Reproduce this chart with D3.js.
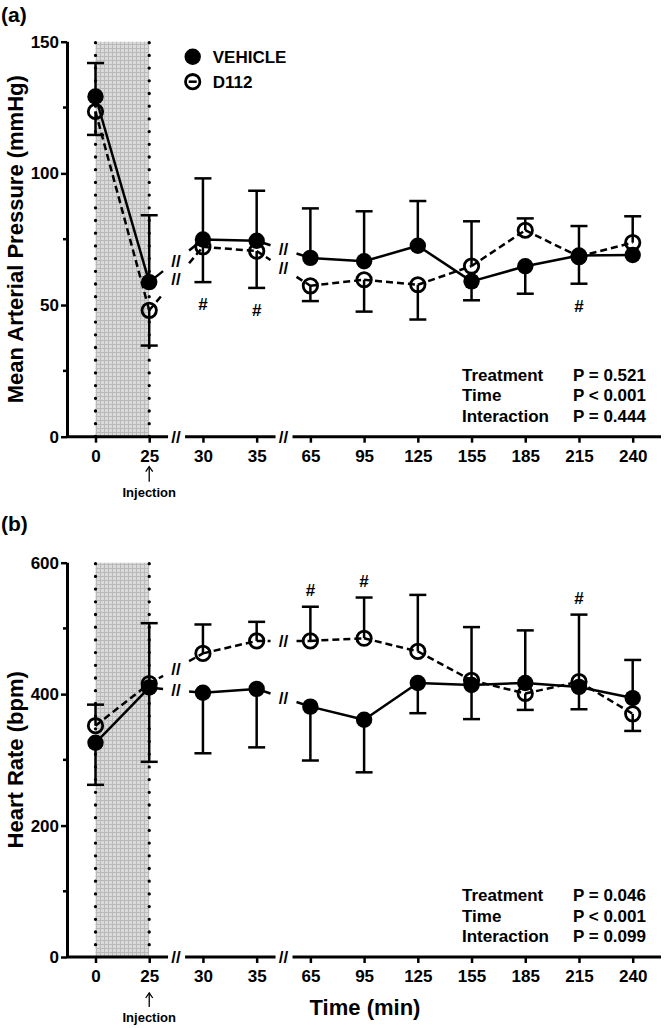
<!DOCTYPE html>
<html>
<head>
<meta charset="utf-8">
<script src="https://cdn.jsdelivr.net/npm/d3@7"></script>
<style>
  body { margin: 0; background: #fff; }
  svg { display: block; font-family: "Liberation Sans", Arial, sans-serif; }
</style>
</head>
<body>
<div id="chart"></div>
<script>
// time points (categorical, with axis breaks after 25 and 35)
const timeLabels = ["0", "25", "30", "35", "65", "95", "125", "155", "185", "215", "240"];
const axisBreaks = [["25", "30"], ["35", "65"]];

// (a) mean arterial pressure, mmHg; *Err = end of the one-sided error bar
const mapVehicle    = [129.2, 58.7, 74.9, 74.4, 67.9, 66.6, 72.5, 59.0, 64.7, 68.8, 69.0];
const mapVehicleErr = [141.9, 84.1, 98.1, 93.4, 86.7, 85.6, 89.5, 51.8, 54.3, 80.0, 69.0];
const mapD112       = [123.5, 48.0, 72.1, 70.5, 57.3, 59.6, 57.7, 64.8, 78.4, 68.4, 73.7];
const mapD112Err    = [114.6, 34.6, 58.7, 56.5, 51.5, 47.5, 44.5, 81.8, 82.9, 58.1, 83.7];
const mapTicks = [0, 50, 100, 150];
const mapMinor = [25, 75, 125];
const mapSig = ["30", "35", "215"];
const mapStats = [["Treatment", "P = 0.521"], ["Time", "P < 0.001"], ["Interaction", "P = 0.444"]];

// (b) heart rate, bpm
const hrVehicle    = [326, 410, 402, 408, 381, 361, 417, 414, 417, 411, 394];
const hrVehicleErr = [262, 297, 310, 319, 299, 281, 371, 362, 497, 377, 452];
const hrD112       = [352, 416, 462, 481, 481, 485, 465, 421, 401, 419, 370];
const hrD112Err    = [384, 508, 506, 510, 533, 547, 551, 502, 376, 521, 344];
const hrTicks = [0, 200, 400, 600];
const hrMinor = [100, 300, 500];
const hrSig = ["65", "95", "215"];
const hrStats = [["Treatment", "P = 0.046"], ["Time", "P < 0.001"], ["Interaction", "P = 0.099"]];

const width = 664, height = 1028;
const svg = d3.select("#chart").append("svg")
    .attr("width", width)
    .attr("height", height);

// grey mesh used for the injection window
const pat = svg.append("defs").append("pattern")
    .attr("id", "mesh")
    .attr("patternUnits", "userSpaceOnUse")
    .attr("width", 4).attr("height", 4);
pat.append("rect").attr("width", 4).attr("height", 4).attr("fill", "#b9b9b9");
pat.append("rect").attr("x", 1).attr("y", 1).attr("width", 3).attr("height", 3).attr("fill", "#dadada");

const x = d3.scalePoint().domain(timeLabels).range([95.5, 632.7]);
const axisX0 = 67, axisX1 = 661;
const breakXs = axisBreaks.map(([a, b]) => (x(a) + x(b)) / 2);

function drawPanel(cfg) {
    const y = d3.scaleLinear().domain([0, cfg.max]).range([cfg.bottom, cfg.top]);
    const g = svg.append("g");

    // injection window
    g.append("rect")
        .attr("x", x("0")).attr("width", x("25") - x("0"))
        .attr("y", y(cfg.max)).attr("height", y(0) - y(cfg.max))
        .attr("fill", "url(#mesh)");
    ["0", "25"].forEach(t => {
        g.append("line")
            .attr("x1", x(t)).attr("x2", x(t))
            .attr("y1", y(cfg.max) + 1).attr("y2", y(0))
            .attr("stroke", "#000").attr("stroke-width", 3.3)
            .attr("stroke-linecap", "round")
            .attr("stroke-dasharray", "0,12.7");
    });

    // y axis
    const yAxis = g.append("g")
        .attr("transform", `translate(${axisX0},0)`)
        .call(d3.axisLeft(y).tickValues(cfg.ticks).tickSize(6).tickPadding(2).tickSizeOuter(0));
    yAxis.select(".domain").attr("stroke-width", 3).attr("d", `M0.5,${y(cfg.max)}V${y(0)}`);
    yAxis.selectAll(".tick line").attr("stroke-width", 2.5);
    yAxis.selectAll(".minor").data(cfg.minor).join("line")
        .attr("x1", 0).attr("x2", -4)
        .attr("y1", d => y(d)).attr("y2", d => y(d))
        .attr("stroke", "#000").attr("stroke-width", 2.5);
    yAxis.selectAll("text")
        .attr("font-size", 17).attr("font-weight", "bold")
        .attr("font-family", "Liberation Sans, Arial, sans-serif");

    // x axis, with gaps at the breaks
    const xAxis = g.append("g")
        .attr("transform", `translate(0,${y(0)})`)
        .call(d3.axisBottom(x).tickSize(6).tickPadding(7));
    xAxis.select(".domain").remove();
    xAxis.selectAll(".tick line").attr("stroke-width", 2.5);
    xAxis.selectAll("text")
        .attr("font-size", 17).attr("font-weight", "bold")
        .attr("font-family", "Liberation Sans, Arial, sans-serif");
    const stops = [axisX0];
    breakXs.forEach(b => stops.push(b - 8, b + 9));
    stops.push(axisX1);
    for (let i = 0; i < stops.length; i += 2) {
        xAxis.append("line")
            .attr("x1", stops[i]).attr("x2", stops[i + 1])
            .attr("stroke", "#000").attr("stroke-width", 3);
    }
    breakXs.forEach(b => {
        xAxis.append("text")
            .attr("x", b).attr("y", 6)
            .attr("text-anchor", "middle")
            .attr("fill", "#000")
            .attr("font-family", "Liberation Sans, Arial, sans-serif")
            .attr("font-size", 17).attr("font-weight", "bold")
            .text("//");
    });

    // injection arrow + label
    const ax = x("25");
    g.append("path")
        .attr("d", `M${ax},${y(0) + cfg.arrow[1]}V${y(0) + cfg.arrow[0]}`)
        .attr("stroke", "#000").attr("stroke-width", 1.3);
    g.append("path")
        .attr("d", `M${ax - 3.5},${y(0) + cfg.arrow[0] + 5}L${ax},${y(0) + cfg.arrow[0]}L${ax + 3.5},${y(0) + cfg.arrow[0] + 5}`)
        .attr("stroke", "#000").attr("stroke-width", 1.3).attr("fill", "none");
    g.append("text")
        .attr("x", ax).attr("y", y(0) + cfg.inj)
        .attr("text-anchor", "middle")
        .attr("font-size", 13).attr("font-weight", "bold")
        .text("Injection");

    // axis title
    g.append("text")
        .attr("transform", `translate(23,${(y(0) + y(cfg.max)) / 2}) rotate(-90)`)
        .attr("text-anchor", "middle")
        .attr("font-size", 22).attr("font-weight", "bold")
        .text(cfg.title);

    // panel letter
    g.append("text")
        .attr("x", 1).attr("y", cfg.letterY)
        .attr("font-size", 21).attr("font-weight", "bold")
        .text(cfg.letter);

    // error bars
    const errBars = (vals, ends) => {
        vals.forEach((v, i) => {
            if (Math.abs(ends[i] - v) < 0.01) return;
            const cx = x(timeLabels[i]);
            g.append("line")
                .attr("x1", cx).attr("x2", cx)
                .attr("y1", y(v)).attr("y2", y(ends[i]))
                .attr("stroke", "#000").attr("stroke-width", 2.5);
            g.append("line")
                .attr("x1", cx - 8.5).attr("x2", cx + 8.5)
                .attr("y1", y(ends[i])).attr("y2", y(ends[i]))
                .attr("stroke", "#000").attr("stroke-width", 2.5);
        });
    };
    errBars(cfg.vehicle, cfg.vehicleErr);
    errBars(cfg.d112, cfg.d112Err);

    // connecting lines, broken with "//" across the axis breaks
    const seriesLine = (vals, dash) => {
        const p = d3.path();
        const marks = [];
        for (let i = 0; i < vals.length - 1; i++) {
            const x0 = x(timeLabels[i]), y0 = y(vals[i]);
            const x1 = x(timeLabels[i + 1]), y1 = y(vals[i + 1]);
            const bi = axisBreaks.findIndex(([a]) => a === timeLabels[i]);
            if (bi < 0) {
                p.moveTo(x0, y0); p.lineTo(x1, y1);
            } else {
                const bx = breakXs[bi];
                const at = xx => y0 + (y1 - y0) * (xx - x0) / (x1 - x0);
                p.moveTo(x0, y0); p.lineTo(bx - 13, at(bx - 13));
                p.moveTo(bx + 13, at(bx + 13)); p.lineTo(x1, y1);
                marks.push([bx, at(bx)]);
            }
        }
        g.append("path")
            .attr("d", p.toString())
            .attr("fill", "none").attr("stroke", "#000").attr("stroke-width", 2.5)
            .attr("stroke-dasharray", dash);
        marks.forEach(([bx, by]) => {
            g.append("text")
                .attr("x", bx).attr("y", by + 6)
                .attr("text-anchor", "middle")
                .attr("font-size", 17).attr("font-weight", "bold")
                .text("//");
        });
    };
    seriesLine(cfg.d112, "7,4");
    seriesLine(cfg.vehicle, null);

    // markers
    g.selectAll(".d112").data(cfg.d112).join("circle")
        .attr("cx", (d, i) => x(timeLabels[i])).attr("cy", d => y(d))
        .attr("r", 7.2).attr("fill", "none")
        .attr("stroke", "#000").attr("stroke-width", 2.8);
    g.selectAll(".veh").data(cfg.vehicle).join("circle")
        .attr("cx", (d, i) => x(timeLabels[i])).attr("cy", d => y(d))
        .attr("r", 8.2).attr("fill", "#000");

    // significance marks next to the D112 error bar end
    cfg.sig.forEach(t => {
        const i = timeLabels.indexOf(t);
        const end = cfg.d112Err[i], up = end > cfg.d112[i];
        g.append("text")
            .attr("x", x(t))
            .attr("y", y(end) + (up ? -11 : 28))
            .attr("text-anchor", "middle")
            .attr("font-size", 17).attr("font-weight", "bold")
            .text("#");
    });

    // statistics
    cfg.stats.forEach(([k, v], j) => {
        const by = y(0) - 56 + j * 20.5;
        g.append("text").attr("x", 462).attr("y", by)
            .attr("font-size", 17).attr("font-weight", "bold").text(k);
        g.append("text").attr("x", 573).attr("y", by)
            .attr("font-size", 17).attr("font-weight", "bold").text(v);
    });
}

drawPanel({
    max: 150, top: 41.7, bottom: 436.7,
    ticks: mapTicks, minor: mapMinor,
    vehicle: mapVehicle, vehicleErr: mapVehicleErr,
    d112: mapD112, d112Err: mapD112Err,
    sig: mapSig, stats: mapStats,
    title: "Mean Arterial Pressure (mmHg)",
    letter: "(a)", letterY: 22,
    arrow: [30, 45], inj: 60
});

drawPanel({
    max: 600, top: 562.7, bottom: 957,
    ticks: hrTicks, minor: hrMinor,
    vehicle: hrVehicle, vehicleErr: hrVehicleErr,
    d112: hrD112, d112Err: hrD112Err,
    sig: hrSig, stats: hrStats,
    title: "Heart Rate (bpm)",
    letter: "(b)", letterY: 531,
    arrow: [36, 50], inj: 65
});

// x axis title (bottom panel only)
svg.append("text")
    .attr("x", 365).attr("y", 1015)
    .attr("text-anchor", "middle")
    .attr("font-size", 22).attr("font-weight", "bold")
    .text("Time (min)");

// legend
const legend = svg.append("g").attr("transform", "translate(192.7,56.7)");
legend.append("circle").attr("r", 8.2).attr("fill", "#000");
legend.append("text").attr("x", 20).attr("y", 6)
    .attr("font-size", 17).attr("font-weight", "bold").text("VEHICLE");
legend.append("circle").attr("cy", 25).attr("r", 7.2)
    .attr("fill", "none").attr("stroke", "#000").attr("stroke-width", 2.8);
legend.append("line").attr("x1", -4).attr("x2", 4).attr("y1", 25).attr("y2", 25)
    .attr("stroke", "#000").attr("stroke-width", 2.5);
legend.append("text").attr("x", 20).attr("y", 31)
    .attr("font-size", 17).attr("font-weight", "bold").text("D112");
</script>
</body>
</html>
